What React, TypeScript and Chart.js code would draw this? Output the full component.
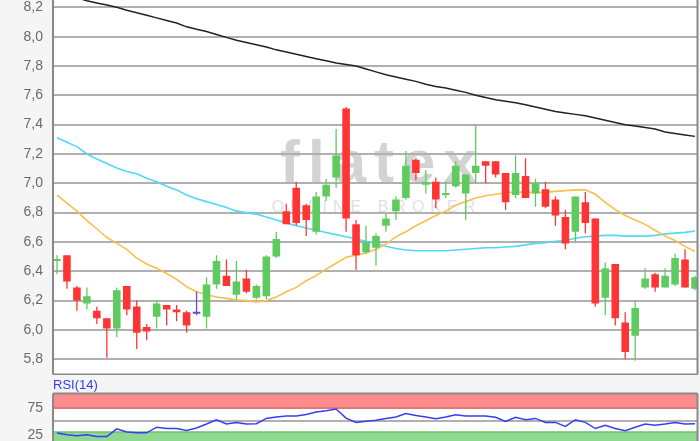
import React, { useEffect, useRef } from 'react';
import { Chart, registerables } from 'chart.js';

Chart.register(...registerables);

// ---- Data ----
const OPEN = [6.47, 6.51, 6.29, 6.18, 6.13, 6.08, 6.01, 6.30, 6.16, 6.02, 6.09, 6.17, 6.14, 6.12, 6.11, 6.09, 6.31, 6.37, 6.24, 6.35, 6.22, 6.23, 6.50, 6.81, 6.97, 6.85, 6.67, 6.91, 7.04, 7.51, 6.72, 6.53, 6.56, 6.71, 6.81, 6.90, 7.16, 6.99, 7.01, 6.92, 6.98, 6.93, 7.07, 7.15, 7.15, 7.07, 6.92, 7.05, 6.93, 6.96, 6.89, 6.77, 6.67, 6.87, 6.76, 6.22, 6.45, 6.05, 5.96, 6.29, 6.38, 6.29, 6.31, 6.48, 6.28];
const HIGH = [6.51, 6.51, 6.30, 6.29, 6.16, 6.08, 6.29, 6.30, 6.20, 6.04, 6.20, 6.17, 6.17, 6.13, 6.26, 6.36, 6.51, 6.48, 6.47, 6.41, 6.31, 6.51, 6.67, 6.86, 7.01, 6.86, 6.94, 7.03, 7.37, 7.52, 6.75, 6.71, 6.66, 6.79, 6.91, 7.22, 7.17, 7.09, 7.04, 7.01, 7.15, 7.06, 7.40, 7.15, 7.15, 7.07, 7.19, 7.17, 7.03, 7.01, 6.91, 6.82, 6.91, 6.94, 6.76, 6.46, 6.45, 6.12, 6.20, 6.42, 6.39, 6.42, 6.52, 6.55, 6.37];
const LOW = [6.38, 6.28, 6.13, 6.14, 6.04, 5.81, 5.95, 6.10, 5.87, 5.93, 6.01, 6.03, 6.06, 5.98, 6.10, 6.01, 6.28, 6.30, 6.21, 6.25, 6.21, 6.21, 6.49, 6.72, 6.71, 6.64, 6.65, 6.88, 6.97, 6.67, 6.41, 6.52, 6.44, 6.67, 6.75, 6.89, 7.02, 6.93, 6.83, 6.90, 6.97, 6.75, 7.00, 7.00, 7.04, 6.82, 6.90, 6.90, 6.84, 6.83, 6.71, 6.55, 6.60, 6.66, 6.16, 6.10, 6.03, 5.80, 5.79, 6.28, 6.26, 6.29, 6.30, 6.29, 6.27];
const CLOSE = [6.48, 6.33, 6.20, 6.23, 6.08, 6.01, 6.27, 6.14, 5.98, 5.99, 6.18, 6.14, 6.12, 6.03, 6.11, 6.31, 6.47, 6.30, 6.33, 6.26, 6.30, 6.50, 6.62, 6.72, 6.73, 6.75, 6.91, 6.99, 7.19, 6.76, 6.51, 6.60, 6.64, 6.76, 6.89, 7.12, 7.07, 7.01, 6.89, 6.93, 7.12, 7.06, 7.12, 7.12, 7.06, 6.87, 7.07, 6.90, 7.00, 6.84, 6.78, 6.59, 6.91, 6.73, 6.18, 6.42, 6.08, 5.85, 6.15, 6.35, 6.29, 6.37, 6.49, 6.29, 6.36];

// Moving averages
const MA_LONG = [8.31, 8.29, 8.265, 8.245, 8.23, 8.216, 8.20, 8.18, 8.163, 8.146, 8.128, 8.11, 8.093, 8.067, 8.05, 8.035, 8.015, 7.995, 7.975, 7.96, 7.945, 7.93, 7.91, 7.895, 7.88, 7.865, 7.85, 7.835, 7.82, 7.81, 7.80, 7.78, 7.76, 7.74, 7.725, 7.71, 7.695, 7.675, 7.66, 7.65, 7.635, 7.62, 7.60, 7.585, 7.57, 7.56, 7.55, 7.535, 7.52, 7.505, 7.49, 7.48, 7.47, 7.46, 7.445, 7.43, 7.415, 7.40, 7.39, 7.38, 7.37, 7.35, 7.34, 7.33, 7.32];
const MA_MID = [7.31, 7.28, 7.25, 7.20, 7.165, 7.135, 7.105, 7.08, 7.065, 7.035, 7.01, 6.98, 6.955, 6.92, 6.895, 6.875, 6.855, 6.835, 6.81, 6.80, 6.79, 6.77, 6.75, 6.73, 6.71, 6.695, 6.68, 6.665, 6.65, 6.635, 6.62, 6.605, 6.59, 6.57, 6.555, 6.545, 6.54, 6.54, 6.54, 6.54, 6.545, 6.55, 6.555, 6.56, 6.56, 6.565, 6.57, 6.58, 6.59, 6.595, 6.605, 6.61, 6.625, 6.635, 6.64, 6.645, 6.645, 6.64, 6.64, 6.64, 6.645, 6.655, 6.66, 6.665, 6.675];
const MA_SHORT = [6.92, 6.865, 6.81, 6.745, 6.69, 6.63, 6.59, 6.55, 6.49, 6.45, 6.42, 6.385, 6.345, 6.295, 6.26, 6.24, 6.225, 6.215, 6.205, 6.20, 6.19, 6.20, 6.225, 6.26, 6.29, 6.335, 6.37, 6.415, 6.455, 6.495, 6.51, 6.525, 6.55, 6.585, 6.635, 6.67, 6.71, 6.745, 6.78, 6.81, 6.85, 6.875, 6.90, 6.915, 6.925, 6.935, 6.94, 6.94, 6.935, 6.94, 6.945, 6.95, 6.955, 6.955, 6.925, 6.87, 6.82, 6.78, 6.75, 6.72, 6.68, 6.64, 6.61, 6.57, 6.535];

const RSI = [28, 25, 23, 25, 21.5, 21.5, 36, 30, 28.5, 28.5, 39, 36.5, 36.5, 33, 37.5, 45, 53, 45, 48, 45, 45.5, 55.5, 58, 60, 60, 63, 67.5, 70, 73, 56, 48, 50, 52, 55.5, 58, 64.5, 61, 58, 55, 58, 62.5, 60, 60, 60, 57.5, 50, 57.5, 53, 55.5, 48, 48, 40.5, 53, 48, 36.5, 42.5, 36.5, 32.5, 39, 45, 42.5, 45, 48, 45, 45.5];

const PRICE_TICKS = [5.8, 6.0, 6.2, 6.4, 6.6, 6.8, 7.0, 7.2, 7.4, 7.6, 7.8, 8.0, 8.2];
const RSI_TICKS = [25, 50, 75];
const RSI_LABELED = [25, 75];
const RSI_OVERBOUGHT = 75;
const RSI_OVERSOLD = 30;
const RSI_TITLE = 'RSI(14)';
const WATERMARK = 'flatex';
const WATERMARK_SUB = 'ONLINE BROKER';

// ---- Styles ----
const FONT = '"Liberation Sans", Arial, Helvetica, sans-serif';
const GREEN = '#5fcb5f';
const RED = '#ff3535';
const DOJI = '#6b48d6';
const GRID = '#b0b0b0';
const FRAME = '#8a8a8a';
const PAGE_BG = '#f5f5f5';

Chart.defaults.font.family = FONT;

function candleColor(i: number) {
  if (CLOSE[i] > OPEN[i]) return GREEN;
  if (CLOSE[i] < OPEN[i]) return RED;
  return DOJI;
}

const frameAndBg = (id: string, withWatermark: boolean, sides: string) => ({
  id,
  beforeDraw(chart: any) {
    const { ctx, chartArea: a } = chart;
    ctx.save();
    ctx.fillStyle = '#ffffff';
    ctx.fillRect(a.left, a.top, a.right - a.left, a.bottom - a.top);
    if (withWatermark) {
      const cx = a.left + (a.right - a.left) * 0.505;
      const cy = a.top + (a.bottom - a.top) * 0.487;
      ctx.textAlign = 'center';
      ctx.textBaseline = 'alphabetic';
      ctx.fillStyle = '#d3d3d3';
      ctx.font = `bold 60px ${FONT}`;
      (ctx as any).letterSpacing = '8px';
      ctx.fillText(WATERMARK, cx + 4, cy);
      ctx.fillStyle = '#e0e0e0';
      ctx.font = `16px ${FONT}`;
      (ctx as any).letterSpacing = '6px';
      ctx.fillText(WATERMARK_SUB, cx - 2, cy + 30);
      (ctx as any).letterSpacing = '0px';
    }
    ctx.restore();
  },
  afterDraw(chart: any) {
    const { ctx, chartArea: a } = chart;
    ctx.save();
    ctx.strokeStyle = FRAME;
    ctx.lineWidth = 2;
    ctx.beginPath();
    if (sides.includes('t')) { ctx.moveTo(a.left, a.top); ctx.lineTo(a.right, a.top); }
    if (sides.includes('l')) { ctx.moveTo(a.left, a.top); ctx.lineTo(a.left, a.bottom); }
    if (sides.includes('b')) { ctx.moveTo(a.left, a.bottom); ctx.lineTo(a.right, a.bottom); }
    if (sides.includes('r')) { ctx.moveTo(a.right, a.top); ctx.lineTo(a.right, a.bottom); }
    ctx.stroke();
    ctx.restore();
  },
});

const rsiBands = {
  id: 'rsiBands',
  beforeDatasetsDraw(chart: any) {
    const { ctx, chartArea: a, scales } = chart;
    const y = scales.y;
    const y75 = y.getPixelForValue(RSI_OVERBOUGHT);
    const y30 = y.getPixelForValue(RSI_OVERSOLD);
    ctx.save();
    ctx.fillStyle = '#ff8c8c';
    ctx.fillRect(a.left, a.top, a.right - a.left, y75 - a.top);
    ctx.fillStyle = '#8fd88f';
    ctx.fillRect(a.left, y30, a.right - a.left, a.bottom - y30);
    ctx.lineWidth = 1.5;
    ctx.strokeStyle = '#e06b6b';
    ctx.beginPath(); ctx.moveTo(a.left, y75); ctx.lineTo(a.right, y75); ctx.stroke();
    ctx.strokeStyle = '#6cc26c';
    ctx.beginPath(); ctx.moveTo(a.left, y30); ctx.lineTo(a.right, y30); ctx.stroke();
    ctx.restore();
  },
};

const X_MIN = 0.6;
const X_MAX = 65.25;

export default function App() {
  const mainRef = useRef<HTMLCanvasElement>(null);
  const rsiRef = useRef<HTMLCanvasElement>(null);

  useEffect(() => {
    const idx = OPEN.map((_, i) => i + 1);
    const colors = OPEN.map((_, i) => candleColor(i));
    const yAxisFit = (s: any) => { s.width = 53; s.paddingTop = 0; s.paddingBottom = 0; };

    const main = new Chart(mainRef.current as HTMLCanvasElement, {
      type: 'bar',
      data: {
        datasets: [
          { type: 'line', label: 'MA long', data: idx.map((x, i) => ({ x, y: MA_LONG[i] })), borderColor: '#222222', borderWidth: 1.5, pointRadius: 0, tension: 0, order: 5 } as any,
          { type: 'line', label: 'MA mid', data: idx.map((x, i) => ({ x, y: MA_MID[i] })), borderColor: '#4fd9f7', borderWidth: 1.6, pointRadius: 0, tension: 0, order: 4 } as any,
          { type: 'line', label: 'MA short', data: idx.map((x, i) => ({ x, y: MA_SHORT[i] })), borderColor: '#f9bf4b', borderWidth: 1.6, pointRadius: 0, tension: 0, order: 3 } as any,
          { type: 'bar', label: 'wick', data: idx.map((x, i) => ({ x, y: [LOW[i], HIGH[i]] })), backgroundColor: colors, borderWidth: 0, grouped: false, categoryPercentage: 1, barPercentage: 0.13, clip: 0, order: 2 } as any,
          { type: 'bar', label: 'body', data: idx.map((x, i) => ({ x, y: [OPEN[i], CLOSE[i]] })), backgroundColor: colors, borderWidth: 0, grouped: false, categoryPercentage: 1, barPercentage: 0.76, minBarLength: 2, clip: 0, order: 1 } as any,
        ],
      },
      options: {
        animation: false,
        responsive: false,
        maintainAspectRatio: false,
        layout: { padding: { left: 0, right: 2.5, top: 0, bottom: 0.5 } },
        plugins: { legend: { display: false }, tooltip: { enabled: false }, title: { display: false } },
        scales: {
          x: { type: 'linear', min: X_MIN, max: X_MAX, offset: false, display: false },
          y: {
            type: 'linear', min: 5.696, max: 8.25,
            afterBuildTicks: (s: any) => { s.ticks = PRICE_TICKS.map((v) => ({ value: v })); },
            afterFit: yAxisFit,
            ticks: { callback: (v: any) => Number(v).toFixed(1).replace('.', ','), color: '#6a6a6a', font: { family: FONT, size: 14 }, padding: 10 },
            grid: { color: GRID, lineWidth: 2, drawTicks: false },
            border: { display: false },
          },
        },
      } as any,
      plugins: [frameAndBg('mainFrame', true, 'lbr')],
    });

    const rsi = new Chart(rsiRef.current as HTMLCanvasElement, {
      type: 'line',
      data: {
        datasets: [
          { label: RSI_TITLE, data: idx.map((x, i) => ({ x, y: RSI[i] })), borderColor: '#3b3bf5', borderWidth: 1.5, pointRadius: 0, tension: 0 },
        ],
      },
      options: {
        animation: false,
        responsive: false,
        maintainAspectRatio: false,
        layout: { padding: { left: 0, right: 2.5, top: 0, bottom: 0 } },
        plugins: {
          legend: { display: false },
          tooltip: { enabled: false },
          title: { display: true, text: RSI_TITLE, align: 'start', fullSize: false, color: '#2f3cf2', font: { family: FONT, size: 13, weight: 'normal' }, padding: { top: 3, bottom: 0 } },
        },
        scales: {
          x: { type: 'linear', min: X_MIN, max: X_MAX, display: false },
          y: {
            type: 'linear', min: 0, max: 102,
            afterBuildTicks: (s: any) => { s.ticks = RSI_TICKS.map((v) => ({ value: v })); },
            afterFit: yAxisFit,
            ticks: { callback: (v: any) => (RSI_LABELED.includes(Number(v)) ? String(v) : ''), color: '#6a6a6a', font: { family: FONT, size: 14 }, padding: 10 },
            grid: { color: GRID, lineWidth: 2, drawTicks: false },
            border: { display: false },
          },
        },
      } as any,
      plugins: [frameAndBg('rsiFrame', false, 'tlr'), rsiBands],
    });

    return () => { main.destroy(); rsi.destroy(); };
  }, []);

  return (
    <div style={{ position: 'absolute', left: 0, top: 0, width: 700, height: 441, overflow: 'hidden', background: PAGE_BG }}>
      <canvas ref={mainRef} width={700} height={375} style={{ position: 'absolute', left: 0, top: 0, width: 700, height: 375 }} />
      <canvas ref={rsiRef} width={700} height={73} style={{ position: 'absolute', left: 0, top: 375, width: 700, height: 73 }} />
    </div>
  );
}
